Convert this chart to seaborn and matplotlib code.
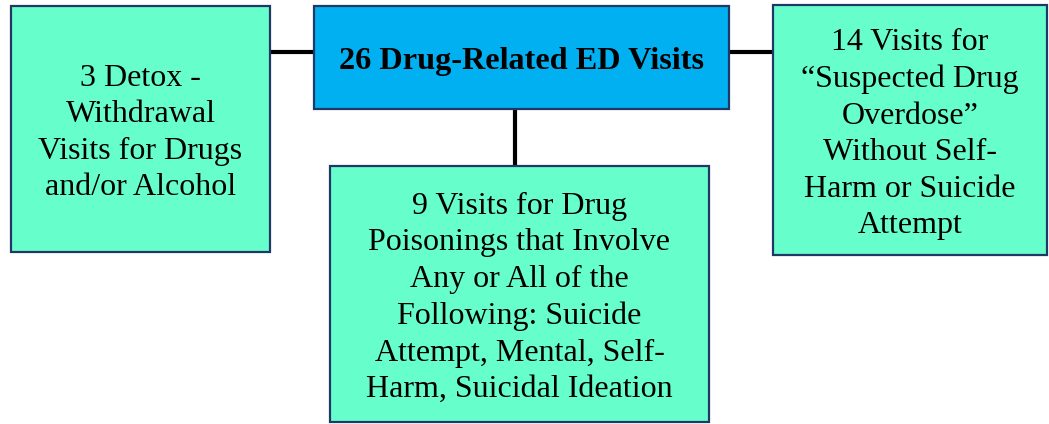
import matplotlib
matplotlib.use("Agg")
import matplotlib.pyplot as plt
from matplotlib.patches import Rectangle
import seaborn as sns

# box labels (the chart's content)
top_label = "26 Drug-Related ED Visits"
left_label = ["3 Detox -", "Withdrawal", "Visits for Drugs", "and/or Alcohol"]
bottom_label = ["9 Visits for Drug", "Poisonings that Involve", "Any or All of the",
                "Following: Suicide", "Attempt, Mental, Self-", "Harm, Suicidal Ideation"]
right_label = ["14 Visits for", "\u201cSuspected Drug", "Overdose\u201d",
               "Without Self-", "Harm or Suicide", "Attempt"]

# layout in pixel coordinates: (x0, y0, x1, y1), y grows downward
boxes = {
    "top": (314, 6, 729, 109),
    "left": (11, 6, 270, 252),
    "bottom": (330, 166, 709, 422),
    "right": (773, 5, 1047, 255),
}
green = "#66FFCC"
blue = "#00B0F0"
edge = "#1F3864"

sns.set_theme(style="white")
plt.rcParams["font.family"] = ["Liberation Serif", "DejaVu Serif"]

fig = plt.figure(figsize=(10.49, 4.24), dpi=100)
ax = fig.add_axes([0, 0, 1, 1])
ax.set_xlim(0, 1049)
ax.set_ylim(424, 0)
ax.axis("off")

# connectors
ax.plot([270, 314], [52, 52], color="black", lw=3, zorder=1)
ax.plot([729, 773], [52, 52], color="black", lw=3, zorder=1)
ax.plot([515, 515], [109, 166], color="black", lw=3, zorder=1)


def draw_box(key, lines, fill, bold=False):
    x0, y0, x1, y1 = boxes[key]
    ax.add_patch(Rectangle((x0, y0), x1 - x0, y1 - y0, facecolor=fill,
                           edgecolor=edge, lw=1.6, zorder=2))
    ax.text((x0 + x1) / 2, (y0 + y1) / 2 + 4, "\n".join(lines), ha="center",
            va="center", fontsize=23.2 if bold else 23,
            fontweight="bold" if bold else "normal", color="black",
            linespacing=1.34, zorder=3)


draw_box("top", [top_label], blue, bold=True)
draw_box("left", left_label, green)
draw_box("bottom", bottom_label, green)
draw_box("right", right_label, green)

fig.savefig("out.png", dpi=100)
